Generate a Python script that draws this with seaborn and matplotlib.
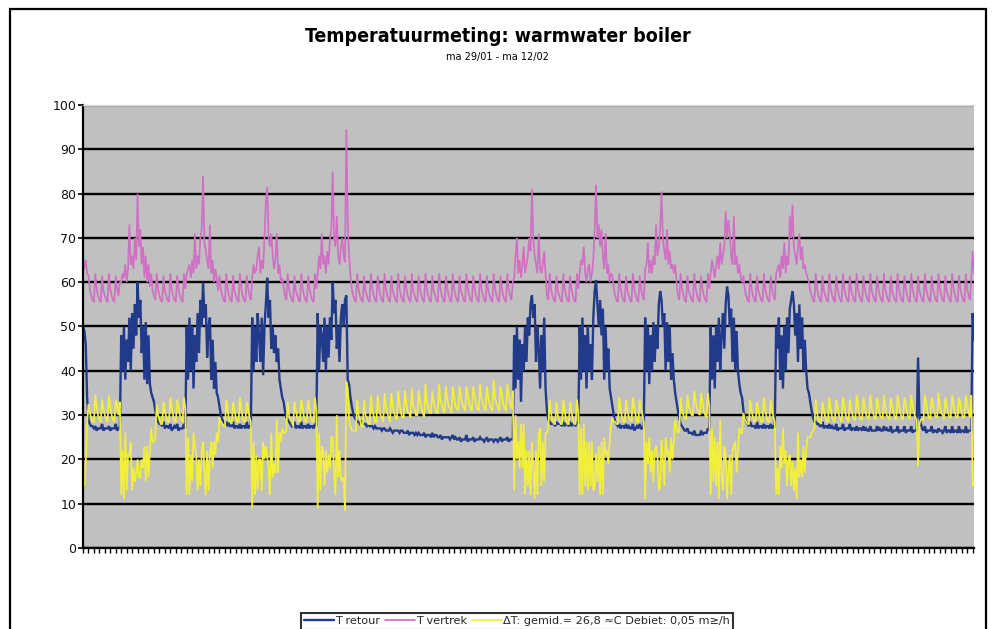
import numpy as np
import pandas as pd
import matplotlib
matplotlib.use("Agg")
import matplotlib.pyplot as plt
from matplotlib.lines import Line2D
from matplotlib.patches import Rectangle
import seaborn as sns

# ---------------- data (half-hourly readings, ma 29/01 17:00 -> ma 12/02 07:30) -------------
vertrek = [
    66, 63, 65, 62,
    61.5, 58.5, 57, 56, 55.5, 62, 58.5, 57, 56, 55.5, 61.5, 58, 57, 56, 55.5, 62, 58.5, 57, 56, 55.5, 61.5, 58.5, 57, 60,
    60, 62, 61, 64, 60, 63, 73, 64, 66, 63, 70, 65, 80, 68, 72, 64, 68, 61, 66, 60, 64, 59, 62, 58,
    57, 56, 62, 58.5, 57, 56, 55.5, 61.5, 58, 57, 56, 55.5, 62, 58.5, 57, 56, 55.5, 61.5, 58.5, 57, 56, 55.5, 62, 58.5,
    62, 63, 64, 61, 65, 62, 71, 63, 66, 64, 70, 72, 84, 69, 67, 65, 63, 73, 62, 65, 60, 63, 61, 58,
    61.5, 58.5, 57, 56, 55.5, 62, 58.5, 57, 56, 55.5, 61.5, 58, 57, 56, 55.5, 62, 58.5, 57, 56, 55.5, 61.5, 58.5, 57, 56,
    61, 64, 62, 63, 66, 68, 62, 65, 63, 70, 78, 81.5, 70, 68, 71, 66, 63, 65, 71, 62, 64, 60, 61, 59,
    57, 56, 62, 58.5, 57, 56, 55.5, 61.5, 58, 57, 56, 55.5, 62, 58.5, 57, 56, 55.5, 61.5, 58.5, 57, 56, 55.5, 62, 58.5,
    62, 66, 63, 71, 64, 66, 62, 67, 64, 70, 72, 85, 70, 68, 75, 66, 64, 68, 70, 66, 64.5, 94.5, 74, 66,
    61.5, 58.5, 57, 56, 55.5, 62, 58.5, 57, 56, 55.5, 61.5, 58, 57, 56, 55.5, 62, 58.5, 57, 56, 55.5, 61.5, 58.5, 57, 56,
    55.5, 62, 58.5, 57, 56, 55.5, 61.5, 58, 57, 56, 55.5, 62, 58.5, 57, 56, 55.5, 61.5, 58.5, 57, 56, 55.5, 62, 58, 57,
    56, 55.5, 61.5, 58.5, 57, 56, 55.5, 62, 58.5, 57, 56, 55.5, 61.5, 58, 57, 56, 55.5, 62, 58.5, 57, 56, 55.5, 61.5, 58.5,
    57, 56, 55.5, 62, 58.5, 57, 56, 55.5, 61.5, 58, 57, 56, 55.5, 62, 58.5, 57, 56, 55.5, 61.5, 58.5, 57, 56, 55.5, 62,
    58.5, 57, 56, 55.5, 61.5, 58, 57, 56, 55.5, 62, 58.5, 57, 56, 55.5, 61.5, 58.5, 57, 56, 55.5, 62, 58.5, 57, 56, 60,
    61, 66, 70, 62, 65, 61, 64, 68, 62, 64, 66, 70, 67, 81, 70, 66, 64, 62, 71, 63, 62, 64, 67, 62,
    57, 56, 62, 58.5, 57, 56, 55.5, 61.5, 58, 57, 56, 55.5, 62, 58.5, 57, 56, 55.5, 61.5, 58.5, 57, 56, 55.5, 62, 58.5,
    62, 65, 64, 68, 62, 60, 63, 64, 60, 62, 65, 72, 82, 70, 73, 68, 72, 66, 63, 71, 62, 64, 60, 62,
    61.5, 58.5, 57, 56, 55.5, 62, 58.5, 57, 56, 55.5, 61.5, 58, 57, 56, 55.5, 62, 58.5, 57, 56, 55.5, 61.5, 58.5, 57, 56,
    63, 64, 69, 62, 65, 62, 66, 64, 73, 66, 68, 72, 80.5, 70, 67, 65, 72, 64, 67, 63, 64, 62, 64, 60,
    57, 56, 62, 58.5, 57, 56, 55.5, 61.5, 58, 57, 56, 55.5, 62, 58.5, 57, 56, 55.5, 61.5, 58.5, 57, 56, 55.5, 62, 58.5,
    62, 65, 63, 61, 64, 66, 63, 69, 64, 66, 68, 76, 70, 74, 71, 66, 64, 75, 64, 66, 62, 64, 61, 60,
    61.5, 58.5, 57, 56, 55.5, 62, 58.5, 57, 56, 55.5, 61.5, 58, 57, 56, 55.5, 62, 58.5, 57, 56, 55.5, 61.5, 58.5, 57, 56,
    62, 63, 64, 61, 66, 63, 69, 62, 66, 64, 75, 70, 77.5, 68, 66, 64, 68, 71, 65, 68, 63, 64, 62, 61,
    60, 58, 57, 56, 55.5, 62, 58.5, 57, 56, 55.5, 61.5, 58, 57, 56, 55.5, 62, 58.5, 57, 56, 55.5, 61.5, 58.5, 57, 56,
    55.5, 62, 58.5, 57, 56, 55.5, 61.5, 58, 57, 56, 55.5, 62, 58.5, 57, 56, 55.5, 61.5, 58.5, 57, 56, 55.5, 62, 58, 57,
    56, 55.5, 61.5, 58.5, 57, 56, 55.5, 62, 58.5, 57, 56, 55.5, 61.5, 58, 57, 56, 55.5, 62, 58.5, 57, 56, 55.5, 61.5, 58.5,
    57, 56, 55.5, 62, 58.5, 57, 56, 55.5, 61.5, 58, 57, 56, 55.5, 62, 58.5, 57, 56, 55.5, 61.5, 58.5, 57, 56, 55.5, 62,
    58.5, 57, 56, 55.5, 61.5, 58, 57, 56, 55.5, 62, 58.5, 57, 56, 55.5, 61.5, 58.5, 57, 56, 55.5, 62, 58.5, 57, 56, 61,
    67, 62,
]

retour = [
    50, 49, 46, 34,
    29, 28, 27.5, 27.5, 27, 27.5, 26.5, 27, 27, 27, 28, 26.5, 27, 27, 27, 27.5, 26.5, 27, 27, 27, 28, 26.5, 27, 27,
    48, 40, 50, 38, 47, 42, 52, 40, 53, 45, 55, 48, 60, 52, 56, 44, 50, 38, 51, 37, 48, 37, 35, 34,
    33, 31, 29.5, 28.5, 28, 28, 27.5, 28.5, 27, 27.5, 27.5, 27, 28, 26.5, 27, 27.5, 27, 28, 26.5, 27, 27, 27, 28, 27,
    50, 38, 52, 40, 50, 36, 48, 42, 53, 44, 56, 50, 60, 52, 55, 43, 50, 52, 38, 47, 36, 42, 35, 34,
    32, 30, 29, 28.5, 28, 28.5, 27.5, 28, 27.5, 27.5, 28.5, 27, 27.5, 27.5, 27, 28, 27, 27.5, 27.5, 27, 28.5, 27, 27.5, 27.5,
    52, 40, 50, 42, 53, 48, 42, 52, 39, 50, 55, 61, 52, 56, 45, 50, 44, 48, 42, 45, 38, 36, 34, 33,
    31, 29.5, 29, 28.5, 28, 27.5, 28, 28.5, 27, 27.5, 27.5, 27, 28.5, 27, 27.5, 27.5, 27, 28, 27, 27.5, 27.5, 27, 28, 27.5,
    53, 40, 50, 48, 42, 52, 40, 50, 43, 52, 47, 60, 53, 56, 45, 50, 42, 52, 55, 50, 56, 57, 38, 37,
    34, 32, 30.5, 29.5, 29, 28.5, 28.5, 28, 28.5, 28, 28, 28, 27.5, 28, 27.5, 27.5, 27.5, 27, 27.5, 27, 27, 27, 27, 26.5,
    27, 27, 26.5, 26.5, 26.5, 27, 26.5, 26, 26.5, 26.5, 26.5, 26.5, 26, 26.5, 26.5, 26, 26, 26, 26.5, 25.5, 26, 26, 26, 25.5,
    26, 25.5, 26, 25.5, 25.5, 25.5, 26, 25, 25.5, 25.5, 25.5, 25, 26, 25, 25.5, 25.5, 25, 25, 25.5, 24.5, 25, 25, 25, 25,
    25, 24.5, 25, 25.5, 24.5, 25, 24.5, 24.5, 25, 24, 24.5, 24.5, 24.5, 25.5, 24, 24.5, 24.5, 24.5, 25, 24, 24.5, 24.5, 24.5, 25,
    24.5, 24.5, 24, 24.5, 25, 24, 24.5, 24.5, 24.5, 24, 24.5, 24.5, 24, 24.5, 25, 24, 24.5, 24.5, 24.5, 25, 24, 24.5, 24.5, 24.5,
    48, 36, 50, 38, 47, 33, 46, 40, 50, 42, 52, 48, 55, 57, 52, 55, 42, 50, 45, 36, 48, 40, 52, 36,
    31, 29, 28.5, 28, 28, 28, 27.5, 28.5, 28, 28, 28, 27.5, 28.5, 27.5, 28, 28, 27.5, 28.5, 27.5, 28, 28, 27.5, 28.5, 28,
    50, 38, 52, 40, 48, 36, 50, 40, 46, 38, 52, 58, 60.5, 55, 50, 56, 48, 54, 38, 50, 40, 45, 36, 34,
    32, 30, 28.5, 28, 27.5, 28, 27, 27.5, 27.5, 27, 28, 27, 27.5, 27, 27, 28, 26.5, 27, 27.5, 27, 28, 27, 27, 27.5,
    52, 40, 50, 37, 48, 40, 51, 42, 50, 45, 55, 58, 56, 50, 53, 40, 51, 42, 50, 38, 44, 38, 35, 33,
    31, 29.5, 28, 27.5, 27, 26.5, 26.5, 27, 26, 26, 26, 25.5, 26.5, 25.5, 25.5, 25.5, 25.5, 26.5, 25.5, 26, 26, 26, 27, 26.5,
    50, 38, 48, 36, 50, 42, 52, 40, 48, 53, 45, 55, 59, 57, 50, 54, 42, 52, 40, 49, 40, 37, 35, 34,
    31, 29.5, 28.5, 28, 27.5, 28.5, 27.5, 27.5, 27.5, 27, 28.5, 27, 27.5, 27.5, 27, 28, 27, 27.5, 27.5, 27, 28, 27, 27.5, 27.5,
    50, 45, 52, 38, 48, 36, 50, 40, 52, 44, 54, 56, 58, 55, 48, 53, 42, 55, 45, 52, 40, 47, 40, 36,
    35, 33, 31, 29.5, 28.5, 28.5, 28, 28, 27.5, 27.5, 28.5, 27, 27.5, 27.5, 27, 28, 27, 27.5, 27, 27, 28, 26.5, 27, 27,
    27, 28, 26.5, 27, 27, 27, 28, 26.5, 27, 27, 26.5, 27.5, 26.5, 27, 27, 26.5, 27.5, 26.5, 27, 26.5, 26.5, 27.5, 26.5, 26.5,
    26.5, 26.5, 27.5, 26.5, 27, 26.5, 26.5, 27.5, 26.5, 27, 26.5, 26.5, 27.5, 26, 26.5, 26.5, 26.5, 27.5, 26, 26.5, 26.5, 26.5, 27.5, 26,
    26.5, 26.5, 26.5, 27.5, 26, 26.5, 26.5, 26.5, 43, 30, 28, 27, 26.5, 27.5, 26, 26.5, 26.5, 26.5, 27.5, 26, 26.5, 26.5, 26, 27,
    26.5, 26.5, 26, 26.5, 27.5, 26, 26.5, 26.5, 26, 27.5, 26, 26.5, 26.5, 26, 27.5, 26, 26.5, 26.5, 26, 27.5, 26, 26.5, 26.5, 26.5,
    53, 47,
]

delta_t = [
    16, 14, 19, 28,
    32.5, 30.5, 29.5, 28.5, 28.5, 34.5, 32, 30, 29, 28.5, 33.5, 31.5, 30, 29, 28.5, 34.5, 32, 30, 29, 28.5, 33.5, 32, 30, 33,
    12, 22, 11, 26, 13, 21, 21, 24, 13, 18, 15, 17, 20, 16, 16, 20, 18, 23, 15, 23, 16, 22, 27, 24,
    24, 25, 32.5, 30, 29, 28, 28, 33, 31, 29.5, 28.5, 28.5, 34, 32, 30, 28.5, 28.5, 33.5, 32, 30, 29, 28.5, 34, 31.5,
    12, 25, 12, 21, 15, 26, 23, 21, 13, 20, 14, 22, 24, 17, 12, 22, 13, 21, 24, 18, 24, 21, 26, 24,
    29.5, 28.5, 28, 27.5, 27.5, 33.5, 31, 29, 28.5, 28, 33, 31, 29.5, 28.5, 28.5, 34, 31.5, 29.5, 28.5, 28.5, 33, 31.5, 29.5, 28.5,
    9, 24, 12, 21, 13, 20, 20, 13, 24, 20, 23, 20.5, 18, 12, 26, 16, 19, 17, 29, 17, 26, 24, 27, 26,
    26, 26.5, 33, 30, 29, 28.5, 27.5, 33, 31, 29.5, 28.5, 28.5, 33.5, 31.5, 29.5, 28.5, 28.5, 33.5, 31.5, 29.5, 28.5, 28.5, 34, 31,
    9, 26, 13, 23, 22, 14, 22, 17, 21, 18, 25, 25, 17, 12, 30, 16, 22, 16, 15, 16, 8.5, 37.5, 36, 29,
    27.5, 26.5, 26.5, 26.5, 26.5, 33.5, 30, 29, 27.5, 27.5, 33.5, 30, 29.5, 28, 28, 34.5, 31, 30, 28.5, 28.5, 34.5, 31.5, 30, 29.5,
    28.5, 35, 32, 30.5, 29.5, 28.5, 35, 32, 30.5, 29.5, 29, 35.5, 32.5, 30.5, 29.5, 29.5, 35.5, 32.5, 30.5, 30.5, 29.5, 36, 32, 31.5,
    30, 30, 35.5, 33, 31.5, 30.5, 29.5, 37, 33, 31.5, 30.5, 30.5, 35.5, 33, 31.5, 30.5, 30.5, 37, 33, 32.5, 31, 30.5, 36.5, 33.5,
    32, 31.5, 30.5, 36.5, 34, 32, 31.5, 31, 36.5, 34, 32.5, 31.5, 31, 36.5, 34.5, 32.5, 31.5, 31, 36.5, 34.5, 32.5, 31.5, 31, 37,
    34, 32.5, 32, 31, 36.5, 34, 32.5, 31.5, 31, 38, 34, 32.5, 32, 31, 36.5, 34.5, 32.5, 31.5, 31, 37, 34.5, 32.5, 31.5, 35.5,
    13, 30, 20, 24, 18, 28, 18, 28, 12, 22, 14, 22, 12, 24, 18, 11, 22, 12, 26, 27, 14, 24, 15, 26,
    26, 27, 33.5, 30.5, 29, 28, 28, 33, 30, 29, 28, 28, 33.5, 31, 29, 28, 28, 33, 31, 29, 28, 28, 33.5, 30.5,
    12, 27, 12, 28, 14, 24, 13, 24, 14, 24, 13, 14, 21.5, 15, 23, 12, 24, 12, 25, 21, 22, 19, 24, 28,
    29.5, 28.5, 28.5, 28, 28, 34, 31.5, 29.5, 28.5, 28.5, 33.5, 31, 29.5, 29, 28.5, 34, 32, 30, 28.5, 28.5, 33.5, 31.5, 30, 28.5,
    11, 24, 19, 25, 17, 22, 15, 22, 23, 21, 13, 14, 24.5, 20, 14, 25, 21, 22, 17, 25, 20, 24, 29, 27,
    26, 26.5, 34, 31, 30, 29.5, 29, 34.5, 32, 31, 30, 30, 35.5, 33, 31.5, 30.5, 30, 35, 33, 31, 30, 29.5, 35, 32,
    12, 27, 15, 25, 14, 24, 11, 29, 16, 13, 23, 21, 11, 17, 21, 12, 22, 23, 24, 17, 22, 27, 26, 26,
    30.5, 29, 28.5, 28, 28, 33.5, 31, 29.5, 28.5, 28.5, 33, 31, 29.5, 28.5, 28.5, 34, 31.5, 29.5, 28.5, 28.5, 33.5, 31.5, 29.5, 28.5,
    12, 18, 12, 23, 18, 27, 19, 22, 14, 20, 21, 14, 19.5, 13, 18, 11, 26, 16, 20, 16, 23, 17, 22, 25,
    25, 25, 26, 26.5, 27, 33.5, 30.5, 29, 28.5, 28, 33, 31, 29.5, 28.5, 28.5, 34, 31.5, 29.5, 29, 28.5, 33.5, 32, 30, 29,
    28.5, 34, 32, 30, 29, 28.5, 33.5, 31.5, 30, 29, 29, 34.5, 32, 30, 29, 29, 34, 32, 30, 29.5, 29, 34.5, 31.5, 30.5,
    29.5, 29, 34, 32, 30, 29.5, 29, 34.5, 32, 30, 29.5, 29, 34, 32, 30.5, 29.5, 29, 34.5, 32.5, 30.5, 29.5, 29, 34, 32.5,
    30.5, 29.5, 29, 34.5, 32.5, 30.5, 29.5, 29, 18.5, 28, 29, 29, 29, 34.5, 32.5, 30.5, 29.5, 29, 34, 32.5, 30.5, 29.5, 29.5, 35,
    32, 30.5, 30, 29, 34, 32, 30.5, 29.5, 29.5, 34.5, 32.5, 30.5, 29.5, 29.5, 34, 32.5, 30.5, 29.5, 29.5, 34.5, 32.5, 30.5, 29.5, 34.5,
    14, 15,
]

series_names = ["T retour", "T vertrek", "\u0394T: gemid.= 26,8 \u2248C Debiet: 0,05 m\u2265/h"]
y_ticks = [0, 10, 20, 30, 40, 50, 60, 70, 80, 90, 100]
title_text = "Temperatuurmeting: warmwater boiler"
subtitle_text = "ma 29/01 - ma 12/02"

lens = {len(retour), len(vertrek), len(delta_t)}
if len(lens) != 1:
    raise ValueError(f"length mismatch: {len(retour)}, {len(vertrek)}, {len(delta_t)}")

# ---------------- style ----------------
sns.set_theme(style="white")
plt.rcParams["font.family"] = ["DejaVu Sans"]

colors = {series_names[0]: "#223a8a", series_names[1]: "#d070c4", series_names[2]: "#f2ef3c"}
widths = [1.7, 1.25, 1.25]

frames = []
for name, vals in zip(series_names, [retour, vertrek, delta_t]):
    frames.append(pd.DataFrame({"meting": np.arange(len(vals)), "temperatuur": vals, "reeks": name}))
df = pd.concat(frames, ignore_index=True)
n = len(retour)

fig = plt.figure(figsize=(9.95, 6.29), dpi=100)
fig.patch.set_facecolor("white")
ax = fig.add_axes([83 / 995, 1 - 548 / 629, 891 / 995, 443 / 629])
ax.set_facecolor("#c0c0c0")

sns.lineplot(data=df, x="meting", y="temperatuur", hue="reeks", hue_order=series_names,
             palette=colors, estimator=None, sort=False, legend=False, ax=ax)
for line, w in zip(ax.lines, widths):
    line.set_linewidth(w)
    line.set_solid_joinstyle("miter")

ax.set_xlim(0, n - 1)
ax.set_ylim(0, 100)
ax.set_yticks(y_ticks)
ax.set_xticks(np.arange(0, n, 4))
ax.set_xticklabels([])
ax.set_xlabel("")
ax.set_ylabel("")
ax.yaxis.grid(True, color="black", linewidth=1.7)
ax.xaxis.grid(False)
ax.set_axisbelow(True)
ax.tick_params(axis="y", direction="out", length=3.5, width=1.2, color="black",
               labelsize=9, pad=1.5, left=True, labelcolor="#111111")
ax.tick_params(axis="x", direction="out", length=3.5, width=1.0, color="black", bottom=True)
for side in ["left", "bottom"]:
    ax.spines[side].set_color("black")
    ax.spines[side].set_linewidth(1.6)
ax.spines["top"].set_color("#dcdcdc")
ax.spines["top"].set_linewidth(1.0)
ax.spines["right"].set_visible(False)

# titles
fig.text(0.5, 1 - 37 / 629, title_text, ha="center", va="center",
         fontsize=14, fontweight="bold", fontstretch="condensed", color="black")
fig.text(0.5, 1 - 57 / 629, subtitle_text, ha="center", va="center", fontsize=7, color="black")

# legend (clipped at the bottom like the original)
handles = [Line2D([0], [0], color=colors[nm], linewidth=w) for nm, w in zip(series_names, widths)]
leg = fig.legend(handles, series_names, loc="upper center", bbox_to_anchor=(517 / 995, 1 - 613 / 629),
                 bbox_transform=fig.transFigure, ncol=3, fontsize=8.1, frameon=True, fancybox=False,
                 edgecolor="black", handlelength=2.6, handletextpad=0.1, columnspacing=0.5,
                 borderpad=0.3, borderaxespad=0)
leg.get_frame().set_linewidth(1.5)

# outer border of the chart
fig.patches.append(Rectangle((10 / 995, -0.05), (986 - 10) / 995, 1.05 - 9 / 629,
                             transform=fig.transFigure, fill=False, edgecolor="black",
                             linewidth=1.6, zorder=10))

fig.savefig("out.png", dpi=100)
